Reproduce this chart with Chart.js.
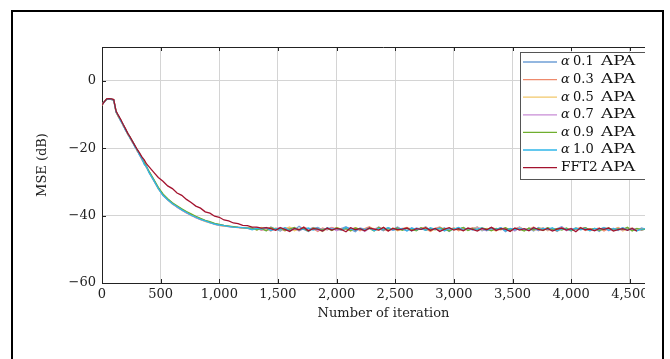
<!DOCTYPE html>
<html>
<head>
<meta charset="utf-8">
<script src="https://cdn.jsdelivr.net/npm/chart.js@4.4.1/dist/chart.umd.min.js"></script>
<style>
    html, body { margin: 0; padding: 0; background: #fff; }
    canvas { display: block; }
</style>
</head>
<body>
<canvas id="mse" width="670" height="359"></canvas>
<script>
// Iteration index (x values)
const iters = [0,20,40,60,80,100,120,140,160,180,200,220,240,260,280,300,320,340,360,380,400,
    440,480,520,560,600,640,680,720,760,800,840,880,920,960,1000,1040,1080,1120,1160,1200,1240,
    1280,1320,1360,1400,1440,1480,1520,1560,1600,1640,1680,1720,1760,1800,1840,1880,1920,1960,2000,2040,2080,
    2120,2160,2200,2240,2280,2320,2360,2400,2440,2480,2520,2560,2600,2640,2680,2720,2760,2800,2840,2880,2920,
    2960,3000,3040,3080,3120,3160,3200,3240,3280,3320,3360,3400,3440,3480,3520,3560,3600,3640,3680,3720,3760,
    3800,3840,3880,3920,3960,4000,4040,4080,4120,4160,4200,4240,4280,4320,4360,4400,4440,4480,4520,4560,4600,4640];

// MSE (dB) per algorithm
const apa01 = [-7.1,-6.3,-5.6,-5.4,-5.6,-5.8,-9.1,-10.7,-11.6,-13.4,-14.3,-16.0,-16.8,-18.4,-19.2,-20.9,-21.7,-23.4,-24.3,-25.9,-26.8,
    -29.3,-31.8,-33.8,-35.1,-36.3,-37.3,-38.1,-39.0,-39.7,-40.4,-41.0,-41.5,-42.0,-42.4,-42.7,-43.0,-43.2,-43.3,-43.5,-43.6,-43.8,
    -43.6,-44.2,-43.8,-44.5,-43.4,-44.0,-44.6,-43.7,-43.9,-44.3,-43.2,-44.1,-44.7,-43.8,-43.5,-44.2,-44.0,
    -43.6,-44.4,-43.9,-43.3,-44.1,-44.8,-43.7,-44.0,-43.5,-44.3,-43.9,-44.5,-43.6,-44.1,-43.4,-44.2,-43.8,
    -44.6,-43.7,-44.0,-43.3,-44.4,-43.9,-44.2,-43.6,-44.7,-43.8,-44.1,-43.5,-44.3,-43.9,-43.4,-44.5,-44.0,
    -43.7,-44.2,-43.6,-44.8,-43.9,-44.1,-43.4,-44.3,-43.8,-44.6,-43.5,-44.0,-43.7,-44.4,-43.9,-43.3,-44.2,
    -44.5,-43.8,-44.1,-43.6,-44.3,-43.9,-44.7,-43.5,-44.0,-43.8,-44.4,-43.6,-44.2,-43.9,-44.5,-43.7,-44.1];
const apa03 = [-7.3,-6.2,-5.5,-5.5,-5.5,-5.6,-9.4,-10.5,-11.9,-13.1,-14.6,-15.7,-17.2,-18.1,-19.5,-20.6,-22.0,-23.1,-24.5,-25.6,-27.1,
    -29.6,-31.9,-33.9,-35.4,-36.4,-37.5,-38.4,-39.2,-39.8,-40.6,-41.2,-41.7,-42.0,-42.6,-42.9,-43.1,-43.3,-43.4,-43.6,-43.7,-43.8,
    -44.1,-43.7,-44.4,-43.9,-43.5,-44.2,-43.8,-44.6,-43.6,-44.0,-44.3,-43.4,-44.1,-43.9,-44.7,-43.7,-44.2,
    -43.5,-44.0,-44.4,-43.8,-44.1,-43.6,-44.5,-43.9,-43.3,-44.2,-43.8,-44.0,-44.6,-43.7,-44.3,-43.9,-43.5,
    -44.1,-44.4,-43.6,-43.9,-44.7,-43.8,-43.4,-44.2,-44.0,-43.7,-44.5,-43.9,-44.1,-43.6,-44.3,-43.8,-44.4,
    -43.5,-44.0,-44.2,-43.7,-44.6,-43.9,-43.6,-44.3,-44.1,-43.4,-44.5,-43.8,-44.0,-43.9,-44.7,-43.6,-44.2,
    -43.8,-44.1,-43.5,-44.4,-43.9,-44.0,-43.7,-44.6,-43.8,-44.2,-43.5,-44.3,-44.0,-43.7,-44.4,-43.9,-44.1];
const apa05 = [-7.2,-6.1,-5.4,-5.4,-5.5,-5.7,-9.2,-10.8,-11.7,-13.3,-14.4,-15.9,-17.0,-18.3,-19.3,-20.8,-21.8,-23.3,-24.4,-25.8,-26.9,
    -29.4,-32.1,-33.9,-35.2,-36.6,-37.3,-38.2,-39.0,-40.0,-40.4,-41.0,-41.7,-42.2,-42.4,-42.9,-43.1,-43.1,-43.5,-43.4,-43.7,-43.6,
    -43.8,-44.3,-43.5,-44.0,-44.6,-43.7,-44.2,-43.9,-43.4,-44.5,-44.0,-43.8,-44.3,-43.6,-44.1,-44.7,-43.9,
    -44.2,-43.5,-44.0,-43.8,-44.6,-43.7,-44.1,-44.4,-43.6,-43.9,-44.3,-43.5,-44.2,-43.8,-44.5,-44.0,-43.7,
    -44.3,-43.9,-44.1,-43.5,-44.6,-43.8,-44.0,-44.4,-43.7,-44.2,-43.6,-44.5,-43.9,-44.1,-43.4,-44.3,-43.8,
    -44.0,-44.6,-43.7,-44.2,-43.9,-44.4,-43.5,-44.1,-43.8,-44.3,-44.0,-43.6,-44.5,-43.9,-44.2,-43.7,-44.0,
    -44.4,-43.6,-44.1,-43.8,-44.5,-43.9,-44.2,-43.6,-44.3,-44.0,-43.7,-44.6,-43.8,-44.1,-43.9,-44.3,-43.7];
const apa07 = [-7.1,-6.2,-5.5,-5.3,-5.5,-5.8,-9.3,-10.6,-11.9,-13.1,-14.6,-15.8,-16.9,-18.2,-19.5,-20.6,-22.0,-23.2,-24.6,-25.6,-27.0,
    -29.5,-31.9,-34.1,-35.3,-36.5,-37.5,-38.3,-39.2,-39.9,-40.6,-41.1,-41.6,-42.1,-42.5,-42.8,-43.0,-43.3,-43.4,-43.5,-43.6,-43.7,
    -44.0,-43.6,-44.3,-43.8,-44.5,-43.9,-43.5,-44.2,-44.0,-43.7,-44.6,-43.8,-44.1,-43.5,-44.4,-43.9,-44.2,
    -43.7,-44.5,-43.8,-44.0,-43.6,-44.3,-43.9,-44.7,-43.8,-44.1,-43.4,-44.2,-43.9,-44.4,-43.7,-44.0,-44.5,
    -43.6,-44.2,-43.8,-44.3,-43.9,-44.0,-43.5,-44.6,-43.8,-44.1,-43.7,-44.4,-43.9,-44.2,-43.6,-44.0,-44.5,
    -43.8,-44.3,-43.7,-44.1,-43.9,-44.6,-43.6,-44.2,-43.8,-44.0,-44.4,-43.7,-44.3,-43.9,-44.1,-43.5,-44.5,
    -43.8,-44.2,-44.0,-43.6,-44.4,-43.9,-44.1,-43.7,-44.5,-43.8,-44.0,-44.3,-43.6,-44.2,-43.9,-44.4,-43.8];
const apa09 = [-7.2,-6.2,-5.5,-5.4,-5.5,-5.7,-9.2,-10.5,-11.8,-13.0,-14.4,-15.7,-16.8,-18.0,-19.3,-20.5,-21.7,-23.0,-24.3,-25.5,-26.8,
    -29.2,-31.6,-33.6,-35.0,-36.2,-37.1,-38.0,-38.8,-39.5,-40.2,-40.8,-41.4,-41.8,-42.3,-42.6,-42.9,-43.1,-43.3,-43.5,-43.6,-43.7,
    -43.7,-44.2,-43.9,-44.5,-43.6,-44.1,-43.8,-44.4,-44.0,-43.5,-44.3,-43.9,-44.6,-43.7,-44.0,-44.2,-43.8,
    -44.4,-43.6,-44.1,-43.9,-44.5,-43.7,-44.0,-44.3,-43.8,-44.6,-43.5,-44.2,-43.9,-44.1,-43.7,-44.4,-43.8,
    -44.0,-44.5,-43.6,-44.3,-43.9,-44.2,-43.7,-44.0,-44.6,-43.8,-44.1,-43.5,-44.4,-43.9,-44.2,-43.7,-44.0,
    -44.5,-43.8,-44.1,-43.6,-44.3,-43.9,-44.0,-44.6,-43.7,-44.2,-43.8,-44.4,-43.6,-44.1,-43.9,-44.3,-43.7,
    -44.5,-43.9,-44.0,-43.6,-44.2,-43.8,-44.4,-44.0,-43.7,-44.3,-43.9,-44.1,-43.5,-44.6,-43.8,-44.2,-44.0];
const apa10 = [-7.2,-6.2,-5.5,-5.4,-5.5,-5.7,-9.3,-10.4,-12.0,-13.0,-14.7,-15.6,-17.1,-18.0,-19.6,-20.5,-22.1,-23.0,-24.8,-25.5,-27.2,
    -29.5,-32.0,-34.0,-35.3,-36.5,-37.4,-38.3,-39.1,-39.9,-40.5,-41.1,-41.6,-42.1,-42.5,-42.8,-43.0,-43.2,-43.4,-43.5,-43.6,-43.7,
    -44.2,-43.8,-44.0,-43.5,-44.4,-43.9,-44.1,-43.6,-44.5,-43.8,-44.2,-44.0,-43.7,-44.3,-43.9,-44.6,-43.6,
    -44.1,-43.8,-44.3,-43.5,-44.0,-44.4,-43.9,-44.2,-43.7,-44.5,-43.8,-44.1,-43.6,-44.3,-44.0,-43.8,-44.6,
    -43.7,-44.2,-43.9,-44.4,-43.6,-44.1,-43.8,-44.5,-43.9,-44.0,-43.5,-44.3,-43.8,-44.2,-44.0,-43.7,-44.4,
    -43.9,-44.1,-43.6,-44.5,-43.8,-44.2,-43.9,-44.0,-44.4,-43.7,-44.3,-43.8,-44.1,-43.6,-44.6,-43.9,-44.0,
    -44.3,-43.7,-44.2,-43.9,-44.5,-43.8,-44.0,-43.6,-44.4,-43.9,-44.1,-43.7,-44.3,-43.8,-44.5,-44.0,-43.9];
const fft2 = [-7.2,-6.2,-5.4,-5.3,-5.4,-5.6,-9.0,-10.3,-11.5,-12.9,-14.2,-15.6,-16.7,-18.0,-19.2,-20.4,-21.4,-22.6,-23.5,-24.7,-25.5,
    -27.1,-28.7,-29.8,-31.2,-32.0,-33.3,-34.0,-35.2,-36.1,-37.2,-37.8,-38.9,-39.3,-40.2,-40.5,-41.3,-41.6,-42.2,-42.4,-42.9,-43.0,-43.4,-43.4,-43.7,-43.6,
    -43.9,-44.4,-43.6,-44.1,-44.7,-43.8,-44.2,-43.5,-44.5,-43.9,-44.0,-44.6,-43.7,-44.3,-43.8,-44.1,-44.8,
    -43.6,-44.2,-43.9,-44.5,-43.7,-44.0,-44.3,-43.5,-44.6,-43.8,-44.2,-44.0,-43.7,-44.5,-43.9,-44.1,-43.6,
    -44.4,-43.8,-44.7,-44.0,-43.6,-44.3,-43.9,-44.5,-43.7,-44.1,-44.6,-43.8,-44.2,-43.5,-44.4,-43.9,-44.0,
    -44.7,-43.7,-44.3,-43.9,-44.5,-43.6,-44.1,-44.4,-43.8,-44.6,-44.0,-43.7,-44.3,-43.9,-44.8,-43.6,-44.2,
    -44.0,-44.5,-43.8,-44.1,-43.7,-44.6,-44.2,-43.9,-44.4,-43.8,-44.6];

const seriesLabels = ['α 0.1 APA', 'α 0.3 APA', 'α 0.5 APA', 'α 0.7 APA', 'α 0.9 APA', 'α 1.0 APA', 'FFT2 APA'];
const seriesValues = [apa01, apa03, apa05, apa07, apa09, apa10, fft2];
const seriesColors = ['#6f9fd6', '#ee8a6c', '#f2c76a', '#c88cd6', '#6fae2e', '#2fb6e8', '#a3122e'];

const xTicks = [0, 500, 1000, 1500, 2000, 2500, 3000, 3500, 4000, 4500];
const yTicks = [-60, -40, -20, 0];

const serif = "'DejaVu Serif', serif";

// pgfplots style frame: inner ticks, top border, legend, clip at right
const framePlugin = {
    id: 'frame',
    beforeDatasetsDraw(chart) {
        const { ctx, chartArea: a, scales } = chart;
        ctx.save();
        ctx.strokeStyle = '#222';
        ctx.lineWidth = 1;
        ctx.beginPath();
        ctx.moveTo(a.left, a.top + 0.5);
        ctx.lineTo(a.right, a.top + 0.5);
        xTicks.forEach(v => {
            const x = Math.round(scales.x.getPixelForValue(v)) + 0.5;
            ctx.moveTo(x, a.bottom); ctx.lineTo(x, a.bottom - 4);
            ctx.moveTo(x, a.top); ctx.lineTo(x, a.top + 4);
        });
        yTicks.forEach(v => {
            const y = Math.round(scales.y.getPixelForValue(v)) + 0.5;
            ctx.moveTo(a.left, y); ctx.lineTo(a.left + 4, y);
        });
        ctx.stroke();
        ctx.restore();
    },
    afterDatasetsDraw(chart) {
        const { ctx } = chart;
        const bx = 520, by = 52, bw = 140, bh = 127;
        ctx.save();
        ctx.fillStyle = '#fff';
        ctx.fillRect(bx, by, bw, bh);
        ctx.strokeStyle = '#555';
        ctx.lineWidth = 1;
        ctx.strokeRect(bx + 0.5, by + 0.5, bw, bh);
        ctx.textBaseline = 'middle';
        seriesLabels.forEach((label, i) => {
            const y = by + 10 + i * 17.6;
            ctx.strokeStyle = seriesColors[i];
            ctx.lineWidth = 1.3;
            ctx.beginPath();
            ctx.moveTo(bx + 3, y);
            ctx.lineTo(bx + 37, y);
            ctx.stroke();
            ctx.fillStyle = '#111';
            const parts = label.split(' ');
            ctx.font = '13px ' + serif;
            if (parts[0] === 'α') {
                ctx.font = 'italic 13px ' + serif;
                ctx.fillText('α', bx + 41, y);
                ctx.font = '13px ' + serif;
                ctx.fillText(parts[1], bx + 53, y);
            } else {
                ctx.save();
                ctx.translate(bx + 41, y);
                ctx.scale(1.05, 1);
                ctx.fillText(parts[0], 0, 0);
                ctx.restore();
            }
            // wide CM capitals
            ctx.save();
            ctx.translate(bx + 81, y);
            ctx.scale(1.3, 1);
            ctx.fillText(parts[parts.length - 1], 0, 0);
            ctx.restore();
        });
        ctx.restore();
    },
    afterDraw(chart) {
        const { ctx } = chart;
        ctx.save();
        // picture is cut off on the right
        ctx.fillStyle = '#fff';
        ctx.fillRect(645, 12, 25, 347);
        // page frame
        ctx.strokeStyle = '#000';
        ctx.lineWidth = 2;
        ctx.beginPath();
        ctx.moveTo(12, 362);
        ctx.lineTo(12, 11);
        ctx.lineTo(663, 11);
        ctx.lineTo(663, 362);
        ctx.stroke();
        ctx.restore();
    }
};

new Chart(document.getElementById('mse'), {
    type: 'line',
    data: {
        datasets: seriesLabels.map((label, i) => ({
            label: label,
            data: iters.map((x, j) => ({ x: x, y: seriesValues[i][j] })).filter(p => p.y !== undefined),
            borderColor: seriesColors[i],
            borderWidth: 1.3,
            pointRadius: 0,
            tension: 0,
            fill: false,
            order: seriesLabels.length - 1 - i
        }))
    },
    options: {
        responsive: false,
        animation: false,
        layout: { padding: { top: 47, right: 5, left: 0, bottom: 0 } },
        plugins: { legend: { display: false }, tooltip: { enabled: false } },
        scales: {
            x: {
                type: 'linear',
                min: 0,
                max: 4800,
                afterBuildTicks: s => { s.ticks = xTicks.map(v => ({ value: v })); },
                afterFit: s => { s.height = 76; },
                grid: { color: '#d4d4d4', lineWidth: 1, drawTicks: false },
                border: { display: true, color: '#222', width: 1 },
                ticks: {
                    color: '#222',
                    padding: 4,
                    maxRotation: 0,
                    font: { family: serif, size: 13 },
                    callback: v => v.toLocaleString('en-US')
                },
                title: {
                    display: true,
                    text: 'Number of iteration',
                    color: '#222',
                    font: { family: serif, size: 13 },
                    padding: { top: 0, bottom: 38 }
                }
            },
            y: {
                min: -60,
                max: 10,
                afterBuildTicks: s => { s.ticks = yTicks.map(v => ({ value: v })); },
                afterFit: s => { s.width = 102; },
                grid: { color: '#d4d4d4', lineWidth: 1, drawTicks: false },
                border: { display: true, color: '#222', width: 1 },
                ticks: {
                    color: '#222',
                    padding: 6,
                    font: { family: serif, size: 13 },
                    callback: v => (v < 0 ? '\u2212' + Math.abs(v) : String(v))
                },
                title: {
                    display: true,
                    text: 'MSE (dB)',
                    color: '#222',
                    font: { family: serif, size: 13 },
                    padding: { top: 35, bottom: 0 }
                }
            }
        }
    },
    plugins: [framePlugin]
});
</script>
</body>
</html>
